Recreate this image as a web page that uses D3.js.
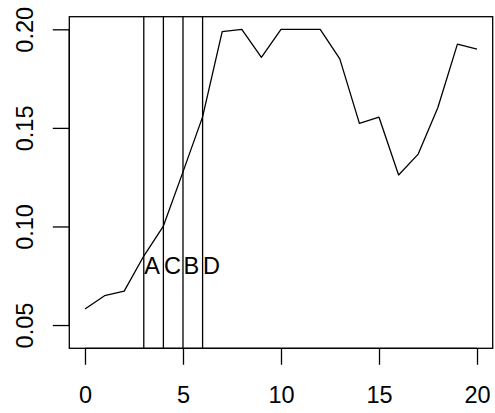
<!DOCTYPE html>
<html>
<head>
<meta charset="utf-8">
<script src="https://cdn.jsdelivr.net/npm/d3@7"></script>
<style>
  body { margin: 0; background: #fff; }
  svg { display: block; }
</style>
</head>
<body>
<svg id="svg"></svg>
<script>
// series
const xs = d3.range(0, 21);
const values = [0.0581, 0.0649, 0.0672, 0.085, 0.1002, 0.1277, 0.1556, 0.1988, 0.2, 0.1858,
    0.2, 0.2, 0.2, 0.185, 0.1523, 0.1554, 0.1261, 0.1367, 0.1602, 0.1925, 0.1899];

// marker lines and labels
const markerX = [3, 4, 5, 6];
const markerLabels = ["A", "C", "B", "D"];
const labelY = 0.08;

const xTicks = [0, 5, 10, 15, 20];
const yTicks = [0.05, 0.10, 0.15, 0.20];

const width = 495;
const height = 413;
const margin = { top: 16.7, right: 2.3, bottom: 64.7, left: 69.3 };
const fontSize = 23.5;
const lw = 1.3;

const svg = d3.select('#svg')
    .attr('width', width)
    .attr('height', height)
    .attr('font-family', 'Liberation Sans, Arial, sans-serif')
    .attr('font-size', fontSize);

// R-style 4% axis padding
const xPad = (20 - 0) * 0.04;
const x = d3.scaleLinear()
    .domain([0 - xPad, 20 + xPad])
    .range([margin.left, width - margin.right]);

const y = d3.scaleLinear()
    .domain([0.0382, 0.2064])
    .range([height - margin.bottom, margin.top]);

// box
svg.append('rect')
    .attr('x', margin.left)
    .attr('y', margin.top)
    .attr('width', width - margin.left - margin.right)
    .attr('height', height - margin.top - margin.bottom)
    .attr('fill', 'none')
    .attr('stroke', '#000')
    .attr('stroke-width', lw);

// x axis
const xAxis = svg.append('g')
    .attr('transform', `translate(0,${height - margin.bottom})`)
    .call(d3.axisBottom(x).tickValues(xTicks).tickSize(16.5).tickPadding(22).tickFormat(d3.format('d')));
xAxis.select('.domain')
    .attr('d', `M${x(0)},0H${x(20)}`)
    .attr('stroke-width', lw);
xAxis.selectAll('.tick line').attr('stroke-width', lw);
xAxis.selectAll('.tick text')
    .attr('font-size', fontSize)
    .attr('font-family', 'Liberation Sans, Arial, sans-serif')
    .attr('fill', '#000');

// y axis
const yAxis = svg.append('g')
    .attr('transform', `translate(${margin.left},0)`)
    .call(d3.axisLeft(y).tickValues(yTicks).tickSize(16.5).tickFormat(d3.format('.2f')));
yAxis.select('.domain')
    .attr('d', `M0,${y(0.05)}V${y(0.20)}`)
    .attr('stroke-width', lw);
yAxis.selectAll('.tick line').attr('stroke-width', lw);
yAxis.selectAll('.tick text')
    .attr('font-size', fontSize)
    .attr('font-family', 'Liberation Sans, Arial, sans-serif')
    .attr('fill', '#000')
    .attr('x', null)
    .attr('dy', null)
    .attr('text-anchor', 'middle')
    .attr('transform', 'translate(-36,0) rotate(-90)');

// vertical marker lines
svg.append('g')
    .selectAll('line')
    .data(markerX)
    .join('line')
        .attr('x1', d => x(d))
        .attr('x2', d => x(d))
        .attr('y1', margin.top)
        .attr('y2', height - margin.bottom)
        .attr('stroke', '#000')
        .attr('stroke-width', lw);

// series line
const line = d3.line()
    .x((d, i) => x(xs[i]))
    .y(d => y(d));

svg.append('path')
    .datum(values)
    .attr('fill', 'none')
    .attr('stroke', '#000')
    .attr('stroke-width', lw)
    .attr('stroke-linejoin', 'round')
    .attr('d', line);

// labels
svg.append('g')
    .selectAll('text')
    .data(markerLabels)
    .join('text')
        .attr('x', (d, i) => x(markerX[i]) + 0.5)
        .attr('y', y(labelY))
        .attr('dy', '0.36em')
        .attr('text-anchor', 'start')
        .text(d => d);
</script>
</body>
</html>
